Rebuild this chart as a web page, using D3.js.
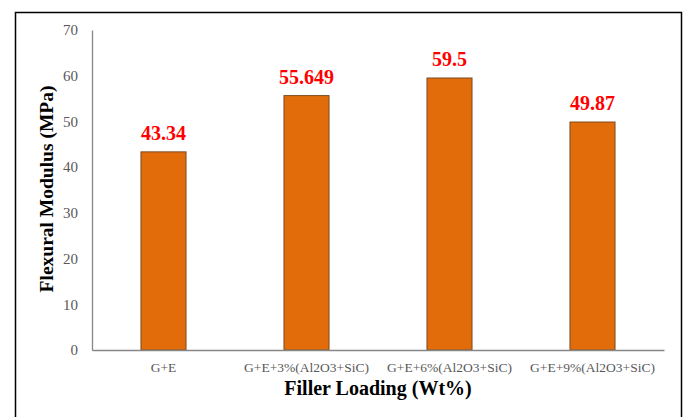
<!DOCTYPE html>
<html>
<head>
<meta charset="utf-8">
<script src="https://cdn.jsdelivr.net/npm/d3@7"></script>
<style>
  html, body { margin: 0; padding: 0; background: #fff; }
  svg { display: block; }
</style>
</head>
<body>
<svg id="chart" width="688" height="417"></svg>
<script>
const categories = ["G+E", "G+E+3%(Al2O3+SiC)", "G+E+6%(Al2O3+SiC)", "G+E+9%(Al2O3+SiC)"];
const modulus = [43.34, 55.649, 59.5, 49.87];
const valueLabels = ["43.34", "55.649", "59.5", "49.87"];
const yTicks = [0, 10, 20, 30, 40, 50, 60, 70];

const FONT = "Liberation Serif";
const svg = d3.select("#chart");

// outer frame
svg.append("rect")
  .attr("x", 15.5).attr("y", 12.5)
  .attr("width", 666).attr("height", 410)
  .attr("fill", "#fff").attr("stroke", "#000").attr("stroke-width", 1.5);

const plot = { left: 92, right: 664, top: 30, bottom: 350 };

const x = d3.scaleBand()
  .domain(categories)
  .range([plot.left, plot.right])
  .paddingInner(0.685)
  .paddingOuter(0.3425);

const y = d3.scaleLinear().domain([0, 70]).range([plot.bottom, plot.top]);

// bars
svg.append("g").selectAll("rect")
  .data(categories)
  .join("rect")
  .attr("x", d => x(d))
  .attr("width", x.bandwidth())
  .attr("y", (d, i) => y(modulus[i]))
  .attr("height", (d, i) => y(0) - y(modulus[i]))
  .attr("fill", "#E36C0A")
  .attr("stroke", "#7a4a22")
  .attr("stroke-width", 1);

// value labels
svg.append("g").selectAll("text")
  .data(categories)
  .join("text")
  .attr("x", d => x(d) + x.bandwidth() / 2)
  .attr("y", (d, i) => y(modulus[i]) - 12)
  .attr("text-anchor", "middle")
  .style("font-family", FONT)
  .style("font-weight", "bold")
  .style("font-size", "20px")
  .attr("fill", "#FF0000")
  .text((d, i) => valueLabels[i]);

// y axis
const yAxis = d3.axisLeft(y).tickValues(yTicks).tickSize(0).tickPadding(14);
const gy = svg.append("g").attr("transform", `translate(${plot.left},0)`).call(yAxis);
gy.select(".domain").attr("stroke", "#868686").attr("stroke-width", 1.3);
gy.selectAll("text")
  .style("font-family", FONT).style("font-size", "15px").attr("fill", "#595959");

// x axis
const xAxis = d3.axisBottom(x).tickSize(0).tickPadding(12.5);
const gx = svg.append("g").attr("transform", `translate(0,${plot.bottom})`).call(xAxis);
gx.select(".domain").attr("stroke", "#868686").attr("stroke-width", 1.3);
gx.selectAll("text")
  .style("font-family", FONT).style("font-size", "13.5px").attr("fill", "#595959");

// axis titles
svg.append("text")
  .attr("x", 378).attr("y", 395)
  .attr("text-anchor", "middle")
  .style("font-family", FONT).style("font-weight", "bold").style("font-size", "20px")
  .attr("fill", "#000")
  .text("Filler Loading (Wt%)");

svg.append("text")
  .attr("transform", "translate(53,189) rotate(-90)")
  .attr("text-anchor", "middle")
  .style("font-family", FONT).style("font-weight", "bold").style("font-size", "19.5px")
  .attr("fill", "#000")
  .text("Flexural Modulus (MPa)");
</script>
</body>
</html>
